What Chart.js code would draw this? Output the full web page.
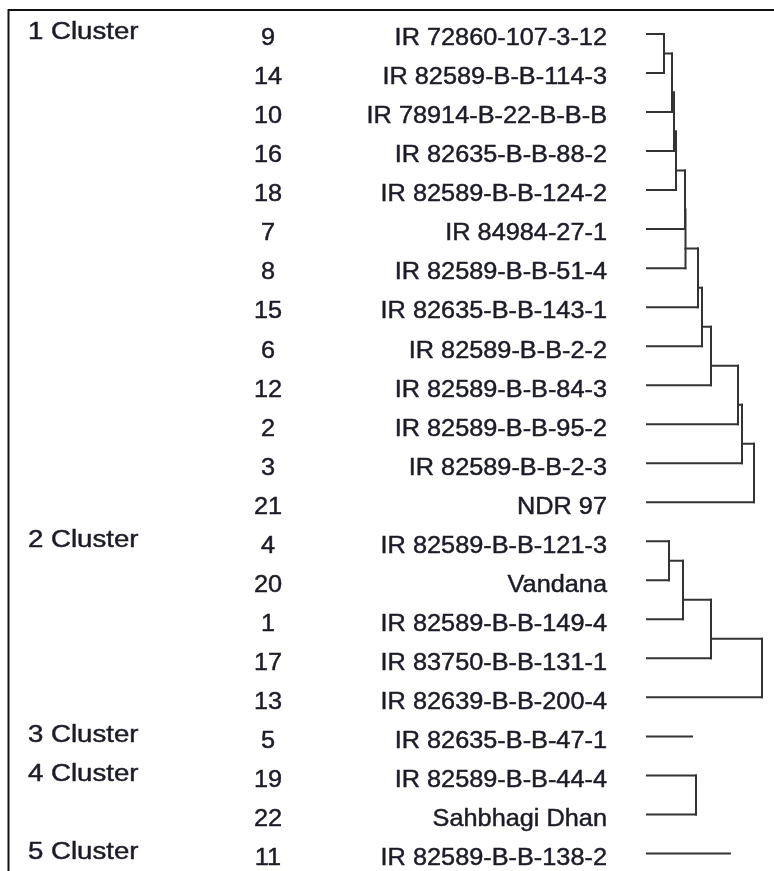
<!DOCTYPE html>
<html>
<head>
<meta charset="utf-8">
<script src="https://cdn.jsdelivr.net/npm/chart.js@4/dist/chart.umd.min.js"></script>
<style>
  html, body { margin: 0; padding: 0; background: #fff; }
  canvas { display: block; }
</style>
</head>
<body>
<canvas id="myChart" width="774" height="871"></canvas>
<script>
// cluster groups, top to bottom
var clusterNames = ['1 Cluster', '2 Cluster', '3 Cluster', '4 Cluster', '5 Cluster'];
var clusterSizes = [13, 5, 1, 2, 1];

// genotype numbers and names in row order
var genotypeNos = [9, 14, 10, 16, 18, 7, 8, 15, 6, 12, 2, 3, 21, 4, 20, 1, 17, 13, 5, 19, 22, 11];
var genotypeNames = [
    'IR 72860-107-3-12', 'IR 82589-B-B-114-3', 'IR 78914-B-22-B-B-B', 'IR 82635-B-B-88-2',
    'IR 82589-B-B-124-2', 'IR 84984-27-1', 'IR 82589-B-B-51-4', 'IR 82635-B-B-143-1',
    'IR 82589-B-B-2-2', 'IR 82589-B-B-84-3', 'IR 82589-B-B-95-2', 'IR 82589-B-B-2-3',
    'NDR 97', 'IR 82589-B-B-121-3', 'Vandana', 'IR 82589-B-B-149-4', 'IR 83750-B-B-131-1',
    'IR 82639-B-B-200-4', 'IR 82635-B-B-47-1', 'IR 82589-B-B-44-4', 'Sahbhagi Dhan',
    'IR 82589-B-B-138-2'
];

// linkage distances (each merge adds the next genotype of the cluster)
var heights1 = [18, 26, 28, 30, 39, 39.5, 52, 56, 65, 92, 96, 108];
var heights2 = [23, 37, 65, 116];
var heights3 = [46];
var heights4 = [50];
var heights5 = [84];
var clusterHeights = [heights1, heights2, heights3, heights4, heights5];

var lineColor = '#333';

function seg(x1, y1, x2, y2) {
    return {
        data: [{x: x1, y: y1}, {x: x2, y: y2}],
        showLine: true,
        borderColor: lineColor,
        borderWidth: 2,
        borderCapStyle: 'square',
        pointRadius: 0,
        pointHoverRadius: 0
    };
}

// build the dendrogram segments
var datasets = [];
var row = 0;
clusterSizes.forEach(function (size, c) {
    var h = clusterHeights[c];
    if (size === 1) {
        datasets.push(seg(0, row, h[0], row));
    } else {
        for (var i = 0; i < size; i++) {
            var end = i < 2 ? h[0] : h[i - 1];
            datasets.push(seg(0, row + i, end, row + i));
        }
        for (var k = 1; k < size; k++) {
            var top = k === 1 ? row : row + k - 1.5;
            datasets.push(seg(h[k - 1], top, h[k - 1], row + k));
            if (k < size - 1) {
                datasets.push(seg(h[k - 1], row + k - 0.5, h[k], row + k - 0.5));
            }
        }
    }
    row += size;
});

function text(c, s, x, y) {
    c.fillText(s, x, y);
    c.strokeText(s, x, y);
}

var tablePlugin = {
    id: 'table',
    beforeDraw: function (chart) {
        var c = chart.ctx;
        c.save();
        c.fillStyle = '#fff';
        c.fillRect(0, 0, chart.width, chart.height);
        c.strokeStyle = '#111';
        c.lineWidth = 2;
        c.beginPath();
        c.moveTo(8.5, chart.height);
        c.lineTo(8.5, 10);
        c.lineTo(chart.width, 10);
        c.stroke();
        c.restore();
    },
    afterDraw: function (chart) {
        var c = chart.ctx;
        var y = chart.scales.y;
        c.save();
        c.fillStyle = '#1c1c28';
        c.strokeStyle = '#1c1c28';
        c.lineWidth = 0.45;
        c.font = '23px "Liberation Sans", Arial, sans-serif';
        c.textBaseline = 'middle';

        // cluster labels
        var sc = 1.2;
        c.save();
        c.scale(sc, 1);
        c.textAlign = 'left';
        var r = 0;
        clusterSizes.forEach(function (size, i) {
            text(c, clusterNames[i], 28 / sc, y.getPixelForValue(r) - 1);
            r += size;
        });
        c.restore();

        // numbers and names
        var sx = 1.1;
        c.scale(sx, 1);
        genotypeNos.forEach(function (n, i) {
            var py = y.getPixelForValue(i) + 5;
            c.textAlign = 'center';
            text(c, String(n), 268 / sx, py);
            c.textAlign = 'right';
            text(c, genotypeNames[i], 607 / sx, py);
        });
        c.restore();
    }
};

var ctx = document.getElementById('myChart').getContext('2d');
var myChart = new Chart(ctx, {
    type: 'scatter',
    data: { datasets: datasets },
    options: {
        responsive: false,
        animation: false,
        devicePixelRatio: 1,
        layout: { padding: { left: 646, right: 0, top: 14.5, bottom: 0 } },
        plugins: { legend: { display: false }, tooltip: { enabled: false } },
        scales: {
            x: { type: 'linear', display: false, min: 0, max: 128 },
            y: { type: 'linear', display: false, reverse: true, min: -0.5, max: 21.45 }
        }
    },
    plugins: [tablePlugin]
});
</script>
</body>
</html>
